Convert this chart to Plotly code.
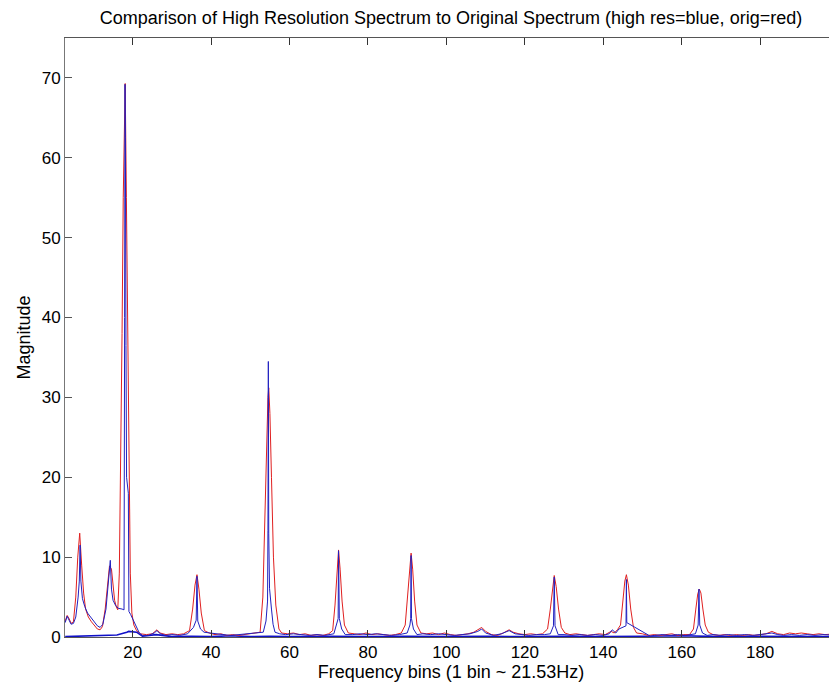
import plotly.graph_objects as go

# ---------------- data ----------------
red_bins = [2.8, 3.3, 3.8, 4.3, 4.9, 5.5, 6.0, 6.5, 7.0, 7.5, 8.0, 8.7, 9.5, 10.3, 11.0, 11.7, 12.3, 13.0, 13.6, 14.1,
            14.6, 15.0, 15.4, 15.8, 16.2, 16.6, 17.0, 17.3, 17.6, 17.9, 18.1, 18.4, 18.7, 19.0, 19.4, 19.8, 20.3, 21.0,
            22.0, 23.5, 25.0, 26.2, 27.0, 28.5, 30.0, 31.5, 33.0, 34.5, 35.3, 35.9, 36.4, 36.9, 37.5, 38.3, 39.5, 41.0,
            42.5, 44.0, 45.5, 47.0, 48.5, 50.0, 51.5, 52.5, 53.2, 53.7, 54.1, 54.5, 54.7, 55.0, 55.4, 55.9, 56.5, 57.3,
            58.0, 59.5, 61.0, 62.5, 64.0, 65.5, 67.0, 68.5, 70.0, 71.0, 71.6, 72.1, 72.5, 72.9, 73.4, 74.0, 75.0, 76.5,
            78.0, 79.5, 81.0, 82.5, 84.0, 85.5, 87.0, 88.5, 89.5, 90.2, 90.7, 91.0, 91.4, 91.9, 92.5, 93.5, 95.0, 96.5,
            98.0, 99.5, 101.0, 102.5, 104.0, 105.5, 107.0, 108.0, 109.0, 110.0, 111.5, 113.0, 114.5, 116.0, 117.0,
            118.5, 120.0, 121.5, 123.0, 124.5, 125.8, 126.5, 127.1, 127.5, 128.0, 128.6, 129.3, 130.2, 131.5, 133.0,
            134.5, 136.0, 137.5, 139.0, 140.5, 142.0, 142.8, 143.6, 144.4, 145.0, 145.5, 145.9, 146.4, 147.0, 147.7,
            148.5, 150.0, 151.5, 153.0, 154.5, 156.0, 157.5, 159.0, 160.5, 162.0, 163.0, 163.6, 164.1, 164.5, 164.9,
            165.4, 166.0, 166.8, 168.0, 169.5, 171.0, 172.5, 174.0, 175.5, 177.0, 178.5, 180.0, 181.5, 183.0, 184.5,
            186.0, 187.5, 189.0, 190.5, 192.0, 193.5, 195.0, 196.5, 198.0, 199.5]
red_mag = [2.0, 2.7, 2.3, 1.7, 1.9, 5.0, 10.0, 13.0, 9.0, 5.5, 3.5, 2.5, 1.9, 1.4, 1.0, 0.9, 1.3, 3.5, 7.0, 8.9,
           8.5, 6.5, 4.6, 3.8, 3.4, 8.0, 22.0, 38.0, 55.0, 64.0, 69.3, 55.0, 38.0, 20.0, 8.0, 3.0, 1.5, 0.8,
           0.4, 0.3, 0.4, 0.9, 0.5, 0.3, 0.4, 0.3, 0.4, 0.8, 3.5, 6.5, 7.8, 6.0, 3.0, 0.8, 0.5, 0.3,
           0.4, 0.2, 0.3, 0.2, 0.3, 0.4, 0.5, 0.6, 5.0, 14.0, 24.0, 30.0, 31.2, 28.0, 20.0, 10.0, 4.0, 1.0,
           0.5, 0.4, 0.5, 0.3, 0.4, 0.2, 0.3, 0.2, 0.4, 0.8, 4.0, 8.5, 10.9, 8.5, 4.5, 1.5, 0.5, 0.4,
           0.3, 0.5, 0.3, 0.4, 0.3, 0.2, 0.3, 0.5, 1.5, 5.5, 9.0, 10.5, 8.5, 4.5, 1.5, 0.5, 0.4, 0.5,
           0.3, 0.5, 0.3, 0.2, 0.3, 0.4, 0.6, 0.9, 1.2, 0.7, 0.3, 0.2, 0.5, 0.9, 0.6,
           0.4, 0.3, 0.4, 0.3, 0.4, 1.0, 3.5, 6.5, 7.7, 6.3, 3.5, 1.2, 0.5, 0.3, 0.4,
           0.3, 0.2, 0.3, 0.4, 0.3, 0.7, 0.5, 0.9, 1.5, 4.5, 7.0, 7.8, 6.5, 3.5, 1.2,
           0.5, 0.4, 0.2, 0.3, 0.2, 0.3, 0.4, 0.2, 0.3, 0.3, 1.0, 3.5, 5.4, 6.0, 5.5,
           3.5, 1.5, 0.6, 0.3, 0.2, 0.3, 0.2, 0.3, 0.2, 0.3, 0.2, 0.3, 0.4, 0.7, 0.4,
           0.3, 0.5, 0.4, 0.5, 0.4, 0.3, 0.4, 0.3, 0.35, 0.3]

blue_bins = [2.8, 3.3, 3.8, 4.3, 4.9, 5.5, 6.1, 6.4, 6.6, 6.8, 7.2, 7.8, 8.5, 9.5, 10.3, 11.0, 11.7, 12.4, 13.2,
             13.9, 14.3, 14.6, 15.0, 15.6, 16.3, 17.3, 17.8, 17.95, 18.05, 18.15, 18.3, 18.45, 18.9, 19.05, 19.5,
             20.3, 21.0, 21.7, 22.5, 24.0, 25.5, 26.2, 27.0, 28.5, 30.0, 32.0, 34.0, 35.5, 36.2, 36.4, 36.6, 37.3,
             38.2, 39.5, 41.0, 43.0, 45.0, 47.0, 49.0, 50.5, 52.0, 53.3, 54.0, 54.4, 54.5, 54.6, 54.7, 54.9, 55.4,
             55.8, 56.3, 57.5, 59.0, 61.0, 63.0, 65.0, 67.0, 69.0, 71.3, 72.0, 72.4, 72.5, 72.6, 72.7, 73.3, 74.2,
             76.0, 78.0, 80.0, 82.0, 84.0, 86.0, 88.0, 90.0, 90.7, 90.9, 91.0, 91.1, 91.6, 92.5, 94.0, 96.0, 98.0,
             100.0, 102.0, 104.0, 106.0, 108.0, 109.0, 110.0, 112.0, 114.0, 116.0, 117.5, 119.0, 121.0, 123.0,
             125.0, 126.5, 127.3, 127.5, 127.7, 128.5, 130.0, 132.0, 134.0, 136.0, 138.0, 140.0, 141.5, 142.3,
             143.2, 144.0, 145.0, 145.8, 145.9, 146.0, 152.0, 153.0, 155.0, 157.0, 159.0, 161.0, 163.5, 164.2,
             164.4, 164.6, 165.3, 166.5, 168.0, 170.0, 172.0, 174.0, 176.0, 178.0, 180.0, 182.0, 183.0, 184.5,
             186.0, 188.0, 190.0, 192.0, 194.0, 196.0, 198.0, 199.5]
blue_mag = [1.8, 2.6, 2.1, 1.6, 1.7, 2.5, 5.0, 7.0, 11.5, 7.0, 4.8, 3.8, 3.0, 2.3, 1.8, 1.4, 1.2, 1.6, 3.5,
            7.5, 9.6, 6.0, 4.6, 4.0, 3.6, 3.5, 3.4, 40.0, 69.2, 62.5, 36.5, 20.0, 18.0, 3.2, 2.8,
            2.0, 1.2, 0.5, 0.2, 0.2, 0.5, 0.8, 0.4, 0.2, 0.3, 0.2, 0.4, 1.2, 2.1, 7.6, 2.0, 1.0,
            0.6, 0.5, 0.4, 0.3, 0.2, 0.3, 0.4, 0.5, 0.5, 0.6, 2.0, 4.5, 13.3, 34.5, 13.0, 6.1, 3.5,
            1.6, 0.6, 0.4, 0.3, 0.4, 0.3, 0.2, 0.3, 0.2, 0.4, 1.5, 2.3, 10.8, 6.4, 2.3, 1.0, 0.3,
            0.3, 0.4, 0.3, 0.4, 0.3, 0.2, 0.3, 0.5, 1.5, 2.3, 10.2, 2.3, 1.0, 0.3, 0.4, 0.3, 0.4,
            0.3, 0.2, 0.3, 0.4, 0.7, 1.0, 0.5, 0.2, 0.4, 0.8, 0.4, 0.3, 0.2, 0.3,
            0.3, 0.4, 1.4, 7.5, 1.4, 0.3, 0.3, 0.2, 0.3, 0.2, 0.3, 0.2, 0.4, 0.9,
            0.5, 1.0, 1.2, 1.4, 7.2, 1.8, 0.1, 0.2, 0.3, 0.2, 0.3, 0.2, 0.4, 1.5,
            6.0, 1.5, 0.5, 0.2, 0.3, 0.2, 0.3, 0.2, 0.3, 0.2, 0.3, 0.4, 0.5, 0.3,
            0.2, 0.3, 0.2, 0.3, 0.2, 0.3, 0.2, 0.2]

base_bins = [2.8, 6.0, 9.0, 11.0, 14.0, 16.0, 18.5, 19.0, 21.0, 22.5, 26.0, 30.0, 35.0, 40.0, 45.0, 50.0, 55.0,
             60.0, 70.0, 80.0, 90.0, 100.0, 110.0, 120.0, 130.0, 140.0, 150.0, 160.0, 170.0, 180.0, 190.0, 199.5]
base_mag = [0.05, 0.1, 0.15, 0.25, 0.3, 0.25, 0.6, 0.7, 0.6, 0.1, 0.3, 0.05, 0.1, 0.05, 0.15, 0.05, 0.1,
            0.05, 0.1, 0.05, 0.1, 0.05, 0.1, 0.05, 0.1, 0.05, 0.1, 0.15, 0.05, 0.1, 0.05, 0.05]

x_ticks = [20, 40, 60, 80, 100, 120, 140, 160, 180]
y_ticks = [0, 10, 20, 30, 40, 50, 60, 70]

# ---------------- figure ----------------
fig = go.Figure()
fig.add_trace(go.Scatter(x=base_bins, y=base_mag, mode="lines",
                         line=dict(color="#1010c8", width=1.6), hoverinfo="skip"))
fig.add_trace(go.Scatter(x=red_bins, y=red_mag, mode="lines",
                         line=dict(color="#e02020", width=1)))
fig.add_trace(go.Scatter(x=blue_bins, y=blue_mag, mode="lines",
                         line=dict(color="#2020c0", width=1)))

# the page body has an 8px margin, so the figure is sized/offset to compensate
W, H = 829, 674
font = "Liberation Sans, Arial, sans-serif"
fig.update_layout(
    width=W, height=H,
    margin=dict(l=57, r=0, t=30, b=H - 629, autoexpand=False),
    paper_bgcolor="white", plot_bgcolor="white",
    showlegend=False,
    font=dict(family=font, size=17, color="black"),
    title=dict(text="Comparison of High Resolution Spectrum to Original Spectrum (high res=blue, orig=red)",
               x=0.5, xanchor="center", xref="paper", y=1 - 10 / H, yref="container", yanchor="middle",
               font=dict(family=font, size=18, color="black")),
)
fig.update_xaxes(range=[2.75, 199.6], tickvals=x_ticks, ticktext=[str(v) for v in x_ticks],
                 ticks="inside", ticklen=7, tickcolor="#333", showgrid=False, zeroline=False,
                 showline=True, linecolor="#555", linewidth=1, mirror="ticks", automargin=False,
                 tickfont=dict(size=17), title=dict(text="Frequency bins (1 bin ~ 21.53Hz)",
                                                    font=dict(size=18), standoff=2))
fig.update_yaxes(range=[0, 75], tickvals=y_ticks, ticktext=[str(v) for v in y_ticks],
                 ticks="inside", ticklen=7, tickcolor="#555", showgrid=False, zeroline=False,
                 showline=True, linecolor="#777", linewidth=1, mirror="ticks", automargin=False,
                 tickfont=dict(size=17), title=dict(text="Magnitude", font=dict(size=18), standoff=6))

fig.write_html("out.html")
